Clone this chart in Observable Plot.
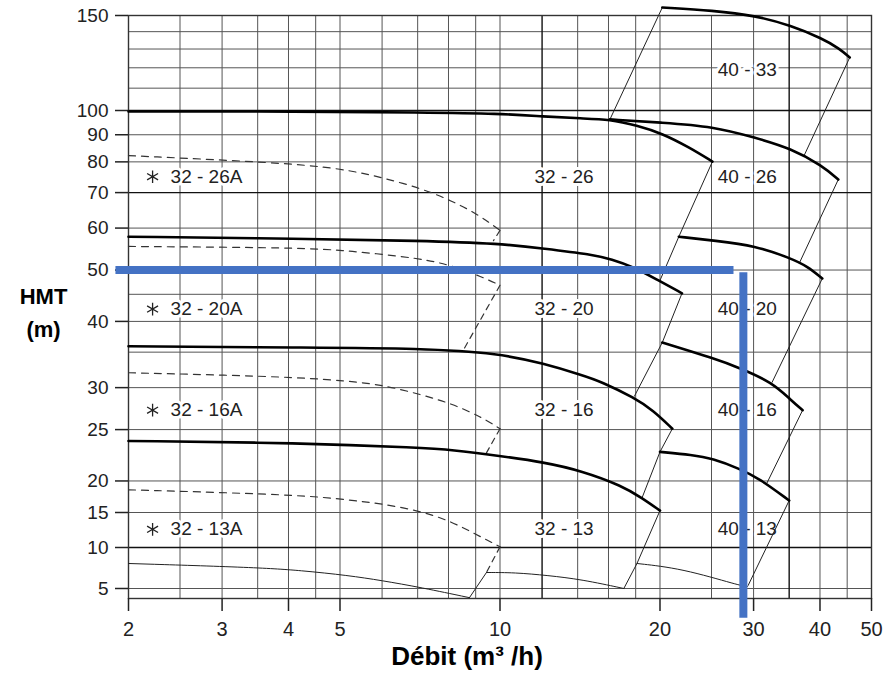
<!DOCTYPE html>
<html><head><meta charset="utf-8">
<script src="https://cdn.jsdelivr.net/npm/d3@7"></script>
<script src="https://cdn.jsdelivr.net/npm/@observablehq/plot@0.6"></script>
<style>body{margin:0;background:#fff;} svg{display:block}</style>
</head><body><div id="chart"></div>
<script>
// ---- axes ----
const xTicks = [2, 3, 4, 5, 10, 20, 30, 40, 50];
const yTicks = [5, 10, 15, 20, 25, 30, 40, 50, 60, 70, 80, 90, 100, 150];
const xGrid = [2.5, 3, 3.5, 4, 4.5, 5, 6, 7, 8, 9, 10, 14, 16, 18, 20, 25, 30, 40, 45];
const xGridMajor = [12, 35];
const yGrid = [5, 15, 20, 25, 30, 35, 40, 45, 50, 60, 80, 90, 110, 120, 130, 140];
const yGridMajor = [10, 70, 100];

// ---- full-impeller pump curves (Q m3/h, HMT m) ----
const c32_26 = [[2,99.6],[4.22,99.6],[7.11,99.1],[10,98.7],[12.1,97.4],[14.25,96.6],[16.1,96.2],[18.1,93.7],[20.2,90.5],[22.7,85.2],[25.1,80.1]];
const c32_20 = [[2,57.8],[4.22,57.3],[7.11,56.8],[10,56.1],[12.1,54.9],[14.9,53.5],[16.2,52.4],[17.9,50.6],[19.7,48.0],[22.0,45.2]];
const c32_16 = [[2,35.9],[4.22,35.7],[7.11,35.6],[10,34.8],[12.1,33.3],[14.25,31.7],[15.5,30.8],[17.9,28.7],[19.4,27.2],[21.1,25.1]];
const c32_13 = [[2,23.8],[4.22,23.6],[7.11,23.1],[8.1,22.9],[10,22.3],[12.1,21.7],[14.25,20.9],[17.0,19.2],[18.5,17.3],[20.0,15.3]];
const c40_33 = [[20.2,155.2],[25.2,153.2],[30.2,150],[35.3,143.7],[40.4,136.0],[43.5,130.3],[45.5,125.4]];
const c40_26 = [[16.1,96.2],[20.2,94.9],[25.2,93.3],[30.2,88.9],[35.3,84.8],[40.4,78.7],[43.3,74.1]];
const c40_20 = [[21.7,57.8],[25.4,56.8],[30.2,55.6],[35.3,52.6],[37.9,50.8],[40.4,48.2]];
const c40_16 = [[20.2,36.5],[25.4,34.0],[28.2,32.7],[32.5,30.7],[35.3,28.4],[37.1,27.2]];
const c40_13 = [[20.0,22.7],[23.0,22.4],[25.1,22.05],[28.2,21.1],[30.8,20.2],[35.0,16.9]];

// ---- trimmed (A) curves, dashed ----
const d32_26A = [[2,82.2],[4.22,79.4],[5.25,77.0],[5.98,74.8],[7.11,71.3],[8.1,67.6],[9.11,63.6],[10,59.4]];
const d32_20A = [[2,55.4],[4.22,55.1],[5.18,54.4],[7.11,52.6],[8.1,51.0],[9.23,48.6],[10,46.8]];
const d32_16A = [[2,32.0],[3.87,31.5],[5.18,30.9],[6.06,30.3],[7.11,29.1],[8.1,28.0],[9.23,26.4],[10,25.1]];
const d32_13A = [[2,18.6],[4.22,17.8],[5.18,17.0],[5.98,16.4],[7.02,15.3],[8.0,13.9],[8.95,12.0],[10,10.1]];
const dashBounds = [
  [[10,59.4],[9.72,56.8]],
  [[10,46.8],[8.57,35.6]],
  [[10,25.1],[9.43,22.6]],
  [[10,10.1],[9.43,6.95]]
];

// ---- thin low-head curves ----
const t1 = [[2,8.05],[3.5,7.56],[4.22,7.2],[5.18,6.59],[5.98,5.98],[7.11,5.12],[8.76,3.9]];
const t2 = [[9.43,6.95],[10.65,6.95],[12.3,6.59],[14.25,6.1],[17.1,5.0]];
const t3 = [[18.1,8.05],[22.0,7.44],[28.2,5.37],[29.2,5.24]];

// ---- range boundary lines ----
const bounds = [
  [[8.76,3.9],[9.43,6.95]],
  [[20.2,155.2],[16.1,96.2]],
  [[25.1,80.1],[21.7,57.8],[20.0,47.8]],
  [[22.0,45.2],[20.2,36.5],[17.9,28.9]],
  [[21.1,25.1],[20.0,22.7],[18.5,17.3]],
  [[20.0,15.3],[18.1,8.05],[17.1,5.0]],
  [[45.5,125.4],[37.4,82.5]],
  [[43.3,74.1],[36.6,51.6]],
  [[40.4,48.2],[32.5,30.7]],
  [[37.1,27.2],[31.8,19.7]],
  [[35.0,16.9],[29.3,5.37]]
];

// ---- labels ----
const aLabels = ["32 - 26A", "32 - 20A", "32 - 16A", "32 - 13A"];
const rowH = [75.0, 42.2, 27.2, 12.6];
const midLabels = ["32 - 26", "32 - 20", "32 - 16", "32 - 13"];
const rightLabels = ["40 - 33", "40 - 26", "40 - 20", "40 - 16", "40 - 13"];
const rightH = [119.1, 75.0, 42.2, 27.2, 12.7];
const starQ = 2.22, aTextQ = 2.40, midQ = 13.2, rightQ = 29.2;

// ---- operating point (blue) ----
const blueH = [[1.89,50],[27.5,50]];
const blueV = [[28.7,49.5],[28.7,1.5]];

// ---- build rows ----
const rows = (id, pts) => pts.map(([q, h]) => ({id, q, h}));
const thickRows = [
  ...rows("32-26", c32_26), ...rows("32-20", c32_20), ...rows("32-16", c32_16), ...rows("32-13", c32_13),
  ...rows("40-33", c40_33), ...rows("40-26", c40_26), ...rows("40-20", c40_20), ...rows("40-16", c40_16), ...rows("40-13", c40_13)
];
const dashedRows = [...rows("26A", d32_26A), ...rows("20A", d32_20A), ...rows("16A", d32_16A), ...rows("13A", d32_13A)];
const dashBoundRows = dashBounds.flatMap((b, i) => rows("db" + i, b));
const thinRows = [...rows("t1", t1), ...rows("t2", t2), ...rows("t3", t3)];
const boundRows = bounds.flatMap((b, i) => rows("b" + i, b));

// y scale: log above 20 m, stretched below (as in the catalogue chart)
const yKnots = [3.8, 5, 10, 15].concat(d3.range(20, 161));
const lowPix = {3.8: 598, 5: 588, 10: 547, 15: 512};
const yRange = yKnots.map(v => v < 20 ? lowPix[v]
  : v <= 100 ? 110 + 530 * Math.log10(100 / v) : 110 - 539.5 * Math.log10(v / 100));

const font = "'Liberation Sans',Arial,sans-serif";
const ink = "#222";

const chart = Plot.plot({
  width: 883, height: 675,
  marginLeft: 128, marginRight: 12, marginTop: 15, marginBottom: 77,
  style: {fontFamily: font, fontSize: "19px", color: ink, background: "#fff"},
  x: {type: "log", domain: [2, 50], axis: null},
  y: {type: "linear", domain: yKnots, range: yRange, axis: null},
  marks: [
    Plot.ruleX(xGrid, {stroke: "#555", strokeWidth: 1}),
    Plot.ruleY(yGrid, {stroke: "#555", strokeWidth: 1}),
    Plot.ruleX(xGridMajor, {stroke: "#111", strokeWidth: 1.4}),
    Plot.ruleY(yGridMajor, {stroke: "#111", strokeWidth: 1.4}),
    Plot.frame({stroke: "#333", strokeWidth: 1.4}),
    Plot.axisY({ticks: yTicks, tickFormat: d => d, tickSize: 13, tickPadding: 7, stroke: ink, strokeWidth: 1.5, fill: ink, fontSize: 19, label: null}),
    Plot.axisX({ticks: xTicks, tickFormat: d => d, tickSize: 13, tickPadding: 10, stroke: ink, strokeWidth: 1.5, fill: ink, fontSize: 20, label: null}),
    // labels with white backing
    Plot.text(aLabels, {x: () => aTextQ, y: (d, i) => rowH[i], text: d => d, textAnchor: "start", fontSize: 19, fill: ink, stroke: "white", strokeWidth: 6}),
    Plot.dot(aLabels, {x: () => starQ, y: (d, i) => rowH[i], symbol: "asterisk", r: 6, stroke: ink, strokeWidth: 1.3}),
    Plot.text(midLabels, {x: () => midQ, y: (d, i) => rowH[i], text: d => d, fontSize: 19, fill: ink, stroke: "white", strokeWidth: 6}),
    Plot.text(rightLabels, {x: () => rightQ, y: (d, i) => rightH[i], text: d => d, fontSize: 19, fill: ink, stroke: "white", strokeWidth: 6}),
    // curves
    Plot.line(boundRows, {x: "q", y: "h", z: "id", stroke: "#222", strokeWidth: 1}),
    Plot.line(thinRows, {x: "q", y: "h", z: "id", stroke: "#222", strokeWidth: 1, curve: "basis"}),
    Plot.line(dashBoundRows, {x: "q", y: "h", z: "id", stroke: "#333", strokeWidth: 1.2, strokeDasharray: "6,5"}),
    Plot.line(dashedRows, {x: "q", y: "h", z: "id", stroke: "#333", strokeWidth: 1.2, strokeDasharray: "7,6", curve: "basis"}),
    Plot.line(thickRows, {x: "q", y: "h", z: "id", stroke: "#000", strokeWidth: 2.6, curve: "basis"}),
    // axis titles
    Plot.text(["HMT\n(m)"], {text: d => d, frameAnchor: "left", dx: -85, dy: 3, textAnchor: "middle", lineHeight: 1.5, fontWeight: "bold", fontSize: 22, fill: "#000"}),
    Plot.text(["Débit (m³ /h)"], {text: d => d, frameAnchor: "bottom", dx: -33, dy: 58, lineAnchor: "middle", fontWeight: "bold", fontSize: 26, fill: "#000"}),
    // operating point
    Plot.line(blueH, {x: d => d[0], y: d => d[1], stroke: "#4472C4", strokeWidth: 8, strokeLinecap: "butt"}),
    Plot.line(blueV, {x: d => d[0], y: d => d[1], stroke: "#4472C4", strokeWidth: 8, strokeLinecap: "butt"})
  ]
});
document.getElementById("chart").appendChild(chart);
</script>
</body></html>
